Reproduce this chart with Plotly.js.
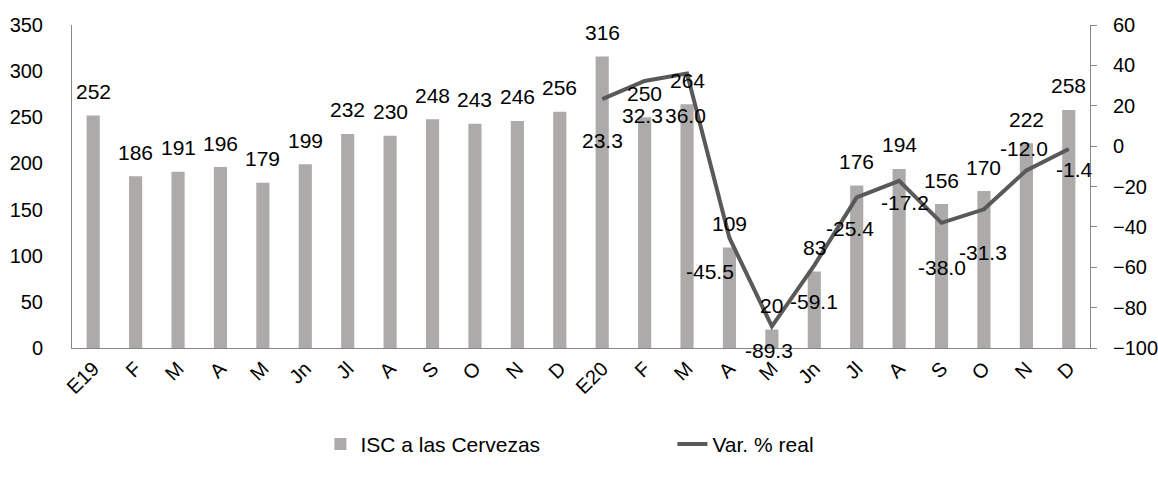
<!DOCTYPE html>
<html><head><meta charset="utf-8">
<script src="https://cdn.plot.ly/plotly-3.0.1.min.js"></script>
<style>body{margin:0;}#c{width:1158px;height:478px;}</style>
</head><body><div id="c"></div>
<script>
const categories = ["E19","F","M","A","M","Jn","Jl","A","S","O","N","D","E20","F","M","A","M","Jn","Jl","A","S","O","N","D"];
const iscValues = [252,186,191,196,179,199,232,230,248,243,246,256,316,250,264,109,20,83,176,194,156,170,222,258];
const varReal = [null,null,null,null,null,null,null,null,null,null,null,null,23.3,32.3,36.0,-45.5,-89.3,-59.1,-25.4,-17.2,-38.0,-31.3,-12.0,-1.4];
// label offsets (pixels) for the line data labels, as placed in the reference
const varLabelDx = [0,0,0,0,0,0,0,0,0,0,0,0, 0,-2,-2,-19,-3,0,-7,6,0,-1,-2,6];
const varLabelDy = [0,0,0,0,0,0,0,0,0,0,0,0, -41,-35,-42,-34,-24,-36,-31,-22,-45,-43,22,-21];

const idx = categories.map((c,i)=>i);
const FAM = "Liberation Sans, Arial, sans-serif";
const tickFont = {family:FAM, size:20, color:"#000"};
const labelFont = {family:FAM, size:21, color:"#000"};
const legendFont = {family:FAM, size:21, color:"#000"};

const traces = [
  {type:"bar", x:idx, y:iscValues, name:"ISC a las Cervezas",
   marker:{color:"#ADAAAA"}, hoverinfo:"skip"},
  {type:"scatter", mode:"lines", x:idx, y:varReal, yaxis:"y2", name:"Var. % real",
   line:{color:"#595959", width:4}, connectgaps:false}
];

const annotations = [];
iscValues.forEach((v,i)=>{
  annotations.push({x:i, y:v, xref:"x", yref:"y", text:String(v), showarrow:false,
    yanchor:"middle", xanchor:"center", yshift:24, font:labelFont});
});
varReal.forEach((v,i)=>{
  if (v === null) return;
  annotations.push({x:i, y:v, xref:"x", yref:"y2", text:v.toFixed(1), showarrow:false,
    yanchor:"middle", xanchor:"center", xshift:varLabelDx[i], yshift:varLabelDy[i], font:labelFont});
});

const layout = {
  width:1158, height:478,
  margin:{l:72, r:68, t:25, b:130},
  paper_bgcolor:"#fff", plot_bgcolor:"#fff",
  font:tickFont,
  bargap:0.69,
  showlegend:true,
  annotations:annotations,
  legend:{orientation:"h", x:0.244, xanchor:"left", y:-0.235, yanchor:"top",
          font:legendFont, entrywidth:307, traceorder:"normal", bgcolor:"rgba(0,0,0,0)"},
  xaxis:{tickmode:"array", tickvals:idx, ticktext:categories, tickangle:-45,
         range:[-0.5,23.5], showgrid:false, zeroline:false, showline:true,
         linecolor:"#868686", linewidth:1, ticks:"", tickfont:tickFont},
  yaxis:{range:[0,350], dtick:50, showgrid:false, zeroline:false,
         showline:true, linecolor:"#868686", ticks:"", tickfont:tickFont, ticklabelstandoff:24},
  yaxis2:{range:[-100,60], dtick:20, overlaying:"y", side:"right",
          showgrid:false, zeroline:false, showline:true, linecolor:"#868686",
          ticks:"outside", ticklen:6, tickcolor:"#868686", tickfont:tickFont, ticklabelstandoff:12}
};

Plotly.newPlot("c", traces, layout, {displayModeBar:false, staticPlot:true});
</script></body></html>
